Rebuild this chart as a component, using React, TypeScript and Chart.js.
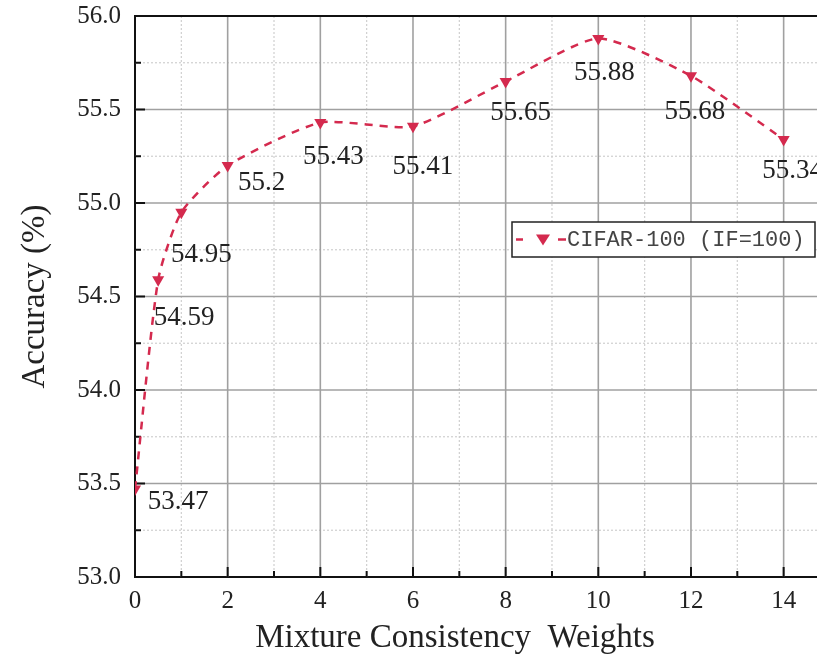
import { useEffect, useRef } from 'react';
import { Chart, registerables } from 'chart.js';
Chart.register(...registerables);

const weights = [0, 0.5, 1, 2, 4, 6, 8, 10, 12, 14];
const accuracy = [53.47, 54.59, 54.95, 55.2, 55.43, 55.41, 55.65, 55.88, 55.68, 55.34];
const valueLabels = ['53.47', '54.59', '54.95', '55.2', '55.43', '55.41', '55.65', '55.88', '55.68', '55.34'];
const labelOffsets = [[43, 13], [26, 38], [20, 43], [34, 17], [13, 34], [10, 41], [15, 31], [6, 34], [4, 36], [9, 31]];
const xMajorTicks = [0, 2, 4, 6, 8, 10, 12, 14];
const xMinorTicks = [1, 3, 5, 7, 9, 11, 13];
const yMajorTicks = [53.0, 53.5, 54.0, 54.5, 55.0, 55.5, 56.0];
const yMinorTicks = [53.25, 53.75, 54.25, 54.75, 55.25, 55.75];
const seriesName = 'CIFAR-100 (IF=100)';
const xTitle = 'Mixture Consistency  Weights';
const yTitle = 'Accuracy (%)';

const RED = '#d42a4e';
const SERIF = '"Liberation Serif", "Times New Roman", serif';

const decor = {
  id: 'decor',
  beforeDatasetsDraw(chart: any) {
    const { ctx, chartArea: a, scales } = chart;
    const x = scales.x, y = scales.y;
    const line = (x1: number, y1: number, x2: number, y2: number) => {
      ctx.beginPath(); ctx.moveTo(x1, y1); ctx.lineTo(x2, y2); ctx.stroke();
    };
    ctx.save();
    ctx.strokeStyle = '#cfcfcf'; ctx.lineWidth = 1.2; ctx.setLineDash([2, 2]);
    xMinorTicks.forEach(v => { const p = x.getPixelForValue(v); line(p, a.top, p, a.bottom); });
    yMinorTicks.forEach(v => { const p = y.getPixelForValue(v); line(a.left, p, a.right, p); });
    ctx.setLineDash([]); ctx.strokeStyle = '#a0a0a0'; ctx.lineWidth = 1.6;
    xMajorTicks.forEach(v => { if (v > 0) { const p = x.getPixelForValue(v); line(p, a.top, p, a.bottom); } });
    yMajorTicks.forEach(v => { if (v > 53 && v < 56) { const p = y.getPixelForValue(v); line(a.left, p, a.right, p); } });
    ctx.strokeStyle = '#111'; ctx.lineWidth = 2;
    xMajorTicks.forEach(v => { const p = x.getPixelForValue(v); line(p, a.bottom, p, a.bottom - 10); });
    xMinorTicks.forEach(v => { const p = x.getPixelForValue(v); line(p, a.bottom, p, a.bottom - 6); });
    yMajorTicks.forEach(v => { const p = y.getPixelForValue(v); line(a.left, p, a.left + 10, p); });
    yMinorTicks.forEach(v => { const p = y.getPixelForValue(v); line(a.left, p, a.left + 6, p); });
    line(a.left, a.top, a.right, a.top);
    ctx.restore();
  },
  afterDatasetsDraw(chart: any) {
    const { ctx } = chart;
    const meta = chart.getDatasetMeta(0);
    ctx.save();
    ctx.font = `27px ${SERIF}`;
    ctx.fillStyle = '#222';
    ctx.textAlign = 'center';
    ctx.textBaseline = 'middle';
    meta.data.forEach((pt: any, i: number) => {
      ctx.fillText(valueLabels[i], pt.x + labelOffsets[i][0], pt.y + labelOffsets[i][1]);
    });
    // legend
    const lx = 512, ly = 222, lw = 303, lh = 35;
    ctx.fillStyle = '#fff';
    ctx.fillRect(lx, ly, lw, lh);
    ctx.strokeStyle = '#222'; ctx.lineWidth = 1.5;
    ctx.strokeRect(lx, ly, lw, lh);
    const cy = ly + lh / 2;
    ctx.strokeStyle = RED; ctx.lineWidth = 2.5;
    ctx.beginPath(); ctx.moveTo(lx + 4, cy); ctx.lineTo(lx + 11, cy); ctx.stroke();
    ctx.beginPath(); ctx.moveTo(lx + 46, cy); ctx.lineTo(lx + 54, cy); ctx.stroke();
    ctx.fillStyle = RED;
    const tx = lx + 31;
    ctx.beginPath(); ctx.moveTo(tx - 7, cy - 5); ctx.lineTo(tx + 7, cy - 5); ctx.lineTo(tx, cy + 6); ctx.closePath(); ctx.fill();
    ctx.fillStyle = '#444';
    ctx.textAlign = 'left';
    ctx.font = '22px "Liberation Mono", monospace';
    ctx.fillText(seriesName, lx + 55, cy + 1);
    // x title
    ctx.fillStyle = '#222';
    ctx.textAlign = 'center';
    ctx.font = `33px ${SERIF}`;
    ctx.fillText(xTitle, 455, 638);
    ctx.restore();
  },
};

export default function App() {
  const ref = useRef<HTMLCanvasElement>(null);
  useEffect(() => {
    const chart = new Chart(ref.current!, {
      type: 'line',
      data: {
        datasets: [{
          label: seriesName,
          data: weights.map((w, i) => ({ x: w, y: accuracy[i] })),
          borderColor: RED,
          backgroundColor: RED,
          borderWidth: 2.5,
          borderDash: [8, 7],
          tension: 0.2,
          pointStyle: 'triangle',
          rotation: 180,
          pointRadius: 7,
          pointBorderWidth: 0,
          pointBackgroundColor: RED,
        }],
      },
      options: {
        responsive: false,
        animation: false,
        layout: { autoPadding: false, padding: { top: 16, right: 0, left: 0, bottom: 0 } },
        plugins: { legend: { display: false }, tooltip: { enabled: false } },
        scales: {
          x: {
            type: 'linear', min: 0, max: 14.72,
            afterFit: (s: any) => { s.height = 88; s.paddingLeft = 0; s.paddingRight = 0; },
            ticks: { stepSize: 2, includeBounds: false, padding: 9, color: '#222', font: { family: SERIF, size: 25 } },
            grid: { display: false, drawTicks: false },
            border: { display: true, color: '#111', width: 2 },
          },
          y: {
            type: 'linear', min: 53, max: 56,
            afterFit: (s: any) => { s.width = 135; s.paddingTop = 0; s.paddingBottom = 0; },
            ticks: { stepSize: 0.5, padding: 14, color: '#222', font: { family: SERIF, size: 25 }, callback: (v: any) => Number(v).toFixed(1) },
            grid: { display: false, drawTicks: false },
            border: { display: true, color: '#111', width: 2 },
            title: { display: true, text: yTitle, color: '#222', font: { family: SERIF, size: 33 }, padding: { top: 16, bottom: 0 } },
          },
        },
      },
      plugins: [decor],
    });
    return () => chart.destroy();
  }, []);
  return (
    <div style={{ position: 'absolute', left: 0, top: 0, width: 817, height: 665, background: '#fff' }}>
      <canvas ref={ref} width={817} height={665} />
    </div>
  );
}
